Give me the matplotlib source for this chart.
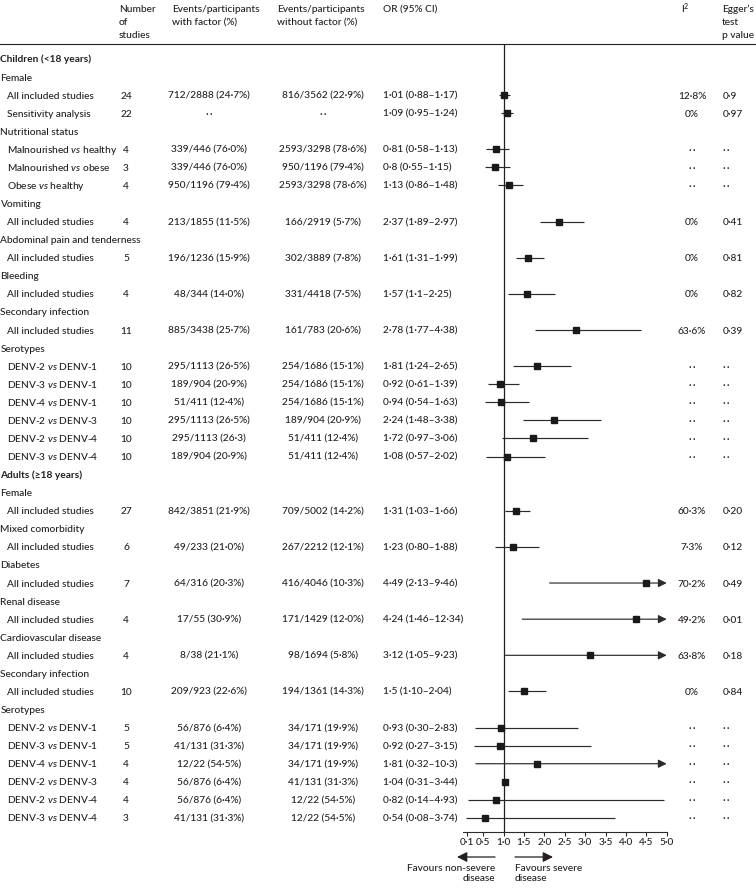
import matplotlib.pyplot as plt
import numpy as np

plt.rcParams["font.family"] = ["Lato", "DejaVu Sans"]
plt.rcParams["font.weight"] = 500
plt.rcParams["mathtext.fontset"] = "custom"
plt.rcParams["mathtext.rm"] = "Lato"
plt.rcParams["mathtext.it"] = "Lato:italic"

DOTS = "\u00b7\u2009\u00b7"   # the ".." placeholder for not reported

# ---------------- data (one entry per table row) ----------------
row_labels = [
    "Children (<18 years)",
    "Female", "All included studies", "Sensitivity analysis",
    "Nutritional status", "Malnourished $vs$ healthy", "Malnourished $vs$ obese", "Obese $vs$ healthy",
    "Vomiting", "All included studies",
    "Abdominal pain and tenderness", "All included studies",
    "Bleeding", "All included studies",
    "Secondary infection", "All included studies",
    "Serotypes", "DENV-2 $vs$ DENV-1", "DENV-3 $vs$ DENV-1", "DENV-4 $vs$ DENV-1",
    "DENV-2 $vs$ DENV-3", "DENV-2 $vs$ DENV-4", "DENV-3 $vs$ DENV-4",
    "Adults (\u226518 years)",
    "Female", "All included studies",
    "Mixed comorbidity", "All included studies",
    "Diabetes", "All included studies",
    "Renal disease", "All included studies",
    "Cardiovascular disease", "All included studies",
    "Secondary infection", "All included studies",
    "Serotypes", "DENV-2 $vs$ DENV-1", "DENV-3 $vs$ DENV-1", "DENV-4 $vs$ DENV-1",
    "DENV-2 $vs$ DENV-3", "DENV-2 $vs$ DENV-4", "DENV-3 $vs$ DENV-4",
]
# 0 = age group, 1 = factor, 2 = analysis
row_level = [0, 1, 2, 2, 1, 2, 2, 2, 1, 2, 1, 2, 1, 2, 1, 2, 1, 2, 2, 2, 2, 2, 2,
             0, 1, 2, 1, 2, 1, 2, 1, 2, 1, 2, 1, 2, 1, 2, 2, 2, 2, 2, 2]

n_studies = ["", "", "24", "22", "", "4", "3", "4", "", "4", "", "5", "", "4", "", "11",
             "", "10", "10", "10", "10", "10", "10",
             "", "", "27", "", "6", "", "7", "", "4", "", "4", "", "10",
             "", "5", "5", "4", "4", "4", "3"]

with_factor = [
    "", "", "712/2888 (24·7%)", DOTS, "", "339/446 (76·0%)", "339/446 (76·0%)", "950/1196 (79·4%)",
    "", "213/1855 (11·5%)", "", "196/1236 (15·9%)", "", "48/344 (14·0%)", "", "885/3438 (25·7%)",
    "", "295/1113 (26·5%)", "189/904 (20·9%)", "51/411 (12·4%)", "295/1113 (26·5%)",
    "295/1113 (26·3)", "189/904 (20·9%)",
    "", "", "842/3851 (21·9%)", "", "49/233 (21·0%)", "", "64/316 (20·3%)", "", "17/55 (30·9%)",
    "", "8/38 (21·1%)", "", "209/923 (22·6%)",
    "", "56/876 (6·4%)", "41/131 (31·3%)", "12/22 (54·5%)", "56/876 (6·4%)", "56/876 (6·4%)",
    "41/131 (31·3%)",
]
without_factor = [
    "", "", "816/3562 (22·9%)", DOTS, "", "2593/3298 (78·6%)", "950/1196 (79·4%)", "2593/3298 (78·6%)",
    "", "166/2919 (5·7%)", "", "302/3889 (7·8%)", "", "331/4418 (7·5%)", "", "161/783 (20·6%)",
    "", "254/1686 (15·1%)", "254/1686 (15·1%)", "254/1686 (15·1%)", "189/904 (20·9%)",
    "51/411 (12·4%)", "51/411 (12·4%)",
    "", "", "709/5002 (14·2%)", "", "267/2212 (12·1%)", "", "416/4046 (10·3%)", "", "171/1429 (12·0%)",
    "", "98/1694 (5·8%)", "", "194/1361 (14·3%)",
    "", "34/171 (19·9%)", "34/171 (19·9%)", "34/171 (19·9%)", "41/131 (31·3%)", "12/22 (54·5%)",
    "12/22 (54·5%)",
]
or_text = [
    "", "", "1·01 (0·88–1·17)", "1·09 (0·95–1·24)", "", "0·81 (0·58–1·13)", "0·8 (0·55–1·15)",
    "1·13 (0·86–1·48)", "", "2·37 (1·89–2·97)", "", "1·61 (1·31–1·99)", "", "1·57 (1·1–2·25)",
    "", "2·78 (1·77–4·38)", "", "1·81 (1·24–2·65)", "0·92 (0·61–1·39)", "0·94 (0·54–1·63)",
    "2·24 (1·48–3·38)", "1·72 (0·97–3·06)", "1·08 (0·57–2·02)",
    "", "", "1·31 (1·03–1·66)", "", "1·23 (0·80–1·88)", "", "4·49 (2·13–9·46)", "",
    "4·24 (1·46–12·34)", "", "3·12 (1·05–9·23)", "", "1·5 (1·10–2·04)",
    "", "0·93 (0·30–2·83)", "0·92 (0·27–3·15)", "1·81 (0·32–10·3)", "1·04 (0·31–3·44)",
    "0·82 (0·14–4·93)", "0·54 (0·08–3·74)",
]
nan = np.nan
or_est = [nan, nan, 1.01, 1.09, nan, 0.81, 0.8, 1.13, nan, 2.37, nan, 1.61, nan, 1.57, nan, 2.78,
          nan, 1.81, 0.92, 0.94, 2.24, 1.72, 1.08,
          nan, nan, 1.31, nan, 1.23, nan, 4.49, nan, 4.24, nan, 3.12, nan, 1.5,
          nan, 0.93, 0.92, 1.81, 1.04, 0.82, 0.54]
ci_low = [nan, nan, 0.88, 0.95, nan, 0.58, 0.55, 0.86, nan, 1.89, nan, 1.31, nan, 1.1, nan, 1.77,
          nan, 1.24, 0.61, 0.54, 1.48, 0.97, 0.57,
          nan, nan, 1.03, nan, 0.80, nan, 2.13, nan, 1.46, nan, 1.05, nan, 1.10,
          nan, 0.30, 0.27, 0.32, 0.31, 0.14, 0.08]
ci_high = [nan, nan, 1.17, 1.24, nan, 1.13, 1.15, 1.48, nan, 2.97, nan, 1.99, nan, 2.25, nan, 4.38,
           nan, 2.65, 1.39, 1.63, 3.38, 3.06, 2.02,
           nan, nan, 1.66, nan, 1.88, nan, 9.46, nan, 12.34, nan, 9.23, nan, 2.04,
           nan, 2.83, 3.15, 10.3, 3.44, 4.93, 3.74]
i2_text = ["", "", "12·8%", "0%", "", DOTS, DOTS, DOTS, "", "0%", "", "0%", "", "0%", "", "63·6%",
           "", DOTS, DOTS, DOTS, DOTS, DOTS, DOTS,
           "", "", "60·3%", "", "7·3%", "", "70·2%", "", "49·2%", "", "63·8%", "", "0%",
           "", DOTS, DOTS, DOTS, DOTS, DOTS, DOTS]
egger_text = ["", "", "0·9", "0·97", "", DOTS, DOTS, DOTS, "", "0·41", "", "0·81", "", "0·82", "", "0·39",
              "", DOTS, DOTS, DOTS, DOTS, DOTS, DOTS,
              "", "", "0·20", "", "0·12", "", "0·49", "", "0·01", "", "0·18", "", "0·84",
              "", DOTS, DOTS, DOTS, DOTS, DOTS, DOTS]
# the source figure prints no CI bar for adult DENV-2 vs DENV-3
hidden_ci_rows = [40]

x_ticks = [0.1, 0.5, 1.0, 1.5, 2.0, 2.5, 3.0, 3.5, 4.0, 4.5, 5.0]
x_tick_labels = ["0·1", "0·5", "1·0", "1·5", "2·0", "2·5", "3·0", "3·5", "4·0", "4·5", "5·0"]
X_MAX = 5.0

# ---------------- layout (pixels) ----------------
W, H = 756, 888
TEXT = "#231f20"
LINE = "#2b2b2b"
FS = 7.3
ROW0, STEP = 59.0, 18.07
SEP_Y, AXIS_Y = 44.3, 831.7
PLOT_X0, PLOT_X1 = 462.7, 666.7   # OR = 0 and OR = 5

fig = plt.figure(figsize=(W / 100, H / 100), dpi=100)
bg = fig.add_axes([0, 0, 1, 1])
bg.set_xlim(0, W)
bg.set_ylim(H, 0)
bg.axis("off")

def row_y(i):
    return ROW0 + i * STEP

def txt(x, y, s, ha="left", **kw):
    bg.text(x, y + 3.5, s, ha=ha, va="baseline", fontsize=FS, color=TEXT, **kw)

# header, one text per line
HEAD_BASE, HEAD_STEP = 12.5, 12.6
headers = [
    (119, ["Number", "of", "studies"]),
    (172, ["Events/participants", "with factor (%)"]),
    (277, ["Events/participants", "without factor (%)"]),
    (383, ["OR (95% CI)"]),
    (681, ["I$^2$"]),
    (722, ["Egger\u2019s", "test", "p value"]),
]
for hx, lines in headers:
    for k, line in enumerate(lines):
        bg.text(hx, HEAD_BASE + k * HEAD_STEP, line, va="baseline", fontsize=FS, color=TEXT)
bg.plot([0, W], [SEP_Y, SEP_Y], color=TEXT, lw=0.8)

# table text
for i, label in enumerate(row_labels):
    y = row_y(i)
    lvl = row_level[i]
    if lvl == 0:
        txt(0, y, label, fontweight="bold")
    elif lvl == 1:
        txt(0.5, y, label)
    else:
        txt(7, y, label)
    if n_studies[i]:
        txt(126, y, n_studies[i], ha="center")
        txt(209, y, with_factor[i], ha="center")
        txt(323, y, without_factor[i], ha="center")
        txt(383, y, or_text[i])
        txt(692, y, i2_text[i], ha="center")
        txt(723, y, egger_text[i])

# forest plot axes
ax = fig.add_axes([PLOT_X0 / W, 1 - AXIS_Y / H, (PLOT_X1 - PLOT_X0) / W, (AXIS_Y - SEP_Y) / H])
ax.set_facecolor("none")
ax.set_xlim(0, X_MAX)
ax.set_ylim((AXIS_Y - ROW0) / STEP, (SEP_Y - ROW0) / STEP)
for side in ["top", "right", "left"]:
    ax.spines[side].set_visible(False)
ax.spines["bottom"].set_linewidth(0.8)
ax.spines["bottom"].set_color(LINE)
ax.set_yticks([])
ax.set_xticks(x_ticks)
ax.set_xticklabels(x_tick_labels)
ax.tick_params(axis="x", direction="out", length=3, width=0.8, pad=1.5,
               labelsize=FS, colors=LINE, labelcolor=TEXT)
ax.axvline(1.0, color=TEXT, lw=0.9, zorder=1)

for i in range(len(row_labels)):
    est = or_est[i]
    if np.isnan(est):
        continue
    lo, hi = ci_low[i], ci_high[i]
    if i not in hidden_ci_rows:
        if hi > X_MAX:
            ax.annotate("", xy=(X_MAX, i), xytext=(lo, i),
                        arrowprops=dict(arrowstyle="-|>,head_length=0.5,head_width=0.25",
                                        color=LINE, lw=0.85, shrinkA=0, shrinkB=0,
                                        mutation_scale=10),
                        annotation_clip=False)
        else:
            ax.hlines(i, lo, hi, color=LINE, lw=0.85, zorder=2)
    ax.plot(est, i, marker="s", ms=4.6, color="#1a1a1a", zorder=3, clip_on=False)

# direction arrows under the axis
arrow_kw = dict(arrowstyle="-|>,head_length=0.6,head_width=0.3", color=TEXT, lw=0.9,
                shrinkA=0, shrinkB=0, mutation_scale=10)
bg.annotate("", xy=(457, 857), xytext=(495, 857), arrowprops=arrow_kw)
bg.annotate("", xy=(553, 857), xytext=(515, 857), arrowprops=arrow_kw)
bg.text(495, 864, "Favours non-severe\ndisease", ha="right", va="top", fontsize=FS,
        color=TEXT, linespacing=1.2)
bg.text(515, 864, "Favours severe\ndisease", ha="left", va="top", fontsize=FS,
        color=TEXT, linespacing=1.2)

fig.savefig("out.png", dpi=100)
